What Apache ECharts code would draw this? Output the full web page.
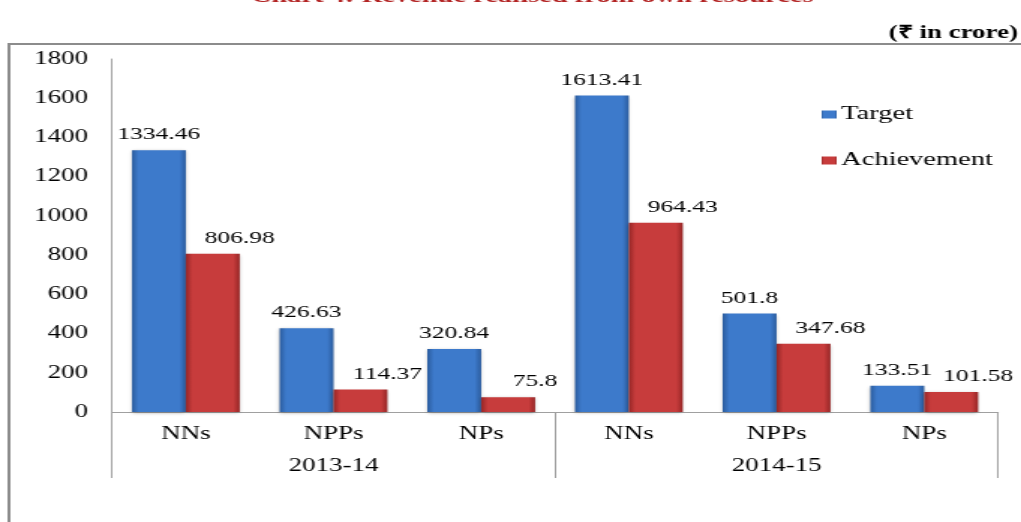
<!DOCTYPE html>
<html>
<head>
<meta charset="utf-8">
<script src="https://cdn.jsdelivr.net/npm/echarts@6/dist/echarts.min.js"></script>
<style>
  html, body { margin: 0; padding: 0; background: #fff; overflow: hidden; }
  /* the source picture is stretched sideways, so draw narrow and stretch */
  #chart { width: 681px; height: 522px; transform: scaleX(1.4993); transform-origin: 0 0; }
</style>
</head>
<body>
<div id="chart"></div>
<script>
const years = ['2013-14', '2014-15']
const categories = ['NNs', 'NPPs', 'NPs', 'NNs', 'NPPs', 'NPs']
const target = [1334.46, 426.63, 320.84, 1613.41, 501.8, 133.51]
const achievement = [806.98, 114.37, 75.8, 964.43, 347.68, 101.58]

const serif = '"Liberation Serif", "Times New Roman", serif'

const barFill = (edge, mid) => new echarts.graphic.LinearGradient(0, 0, 1, 0, [
  { offset: 0, color: edge },
  { offset: 0.12, color: mid },
  { offset: 0.88, color: mid },
  { offset: 1, color: edge }
])

const chart = echarts.init(document.getElementById('chart'))

const option = {
  animation: false,
  grid: { left: 74.7, right: 15.3, top: 59, bottom: 110 },
  graphic: [
    {
      type: 'rect',
      shape: { x: 6, y: 44, width: 720, height: 520 },
      style: { fill: 'none', stroke: '#8c8c8c', lineWidth: 2 }
    },
    {
      type: 'text',
      x: 355, y: 7,
      style: {
        text: 'Chart 4: Revenue realised from own resources',
        fill: '#b22222',
        font: 'bold 19px ' + serif,
        textAlign: 'center',
        textVerticalAlign: 'bottom'
      }
    },
    {
      type: 'text',
      x: 679, y: 33,
      style: {
        text: '(\u20B9 in crore)',
        fill: '#000',
        font: 'bold 18px ' + serif,
        textAlign: 'right',
        textVerticalAlign: 'middle'
      }
    }
  ],
  legend: {
    orient: 'vertical',
    left: 543,
    top: 100,
    itemWidth: 10,
    itemHeight: 8,
    itemGap: 27,
    icon: 'rect',
    data: ['Target', 'Achievement'],
    textStyle: { fontFamily: serif, fontSize: 19, color: '#000', padding: [0, 0, 0, -2] }
  },
  xAxis: [
    {
      type: 'category',
      data: categories,
      axisLine: { lineStyle: { color: '#a0a0a0', width: 1 } },
      axisTick: { show: false },
      axisLabel: { margin: 13, fontFamily: serif, fontSize: 18, color: '#000' }
    },
    {
      type: 'category',
      data: years,
      position: 'bottom',
      axisLine: { show: false },
      axisTick: { show: true, length: 66, lineStyle: { color: '#a0a0a0', width: 1 } },
      axisLabel: { margin: 45, fontFamily: serif, fontSize: 18, color: '#000' }
    }
  ],
  yAxis: {
    type: 'value',
    min: 0,
    max: 1800,
    interval: 200,
    axisLine: { show: true, lineStyle: { color: '#a0a0a0', width: 1 } },
    axisTick: { show: false },
    splitLine: { show: false },
    axisLabel: {
      margin: 16, fontFamily: serif, fontSize: 18, color: '#000',
      formatter: v => String(v)
    }
  },
  series: [
    {
      name: 'Target',
      type: 'bar',
      data: target,
      barGap: '0%',
      barCategoryGap: '27%',
      itemStyle: {
        color: barFill('#2b5c9e', '#3d7acb'),
        shadowColor: 'rgba(0,0,0,0.3)', shadowBlur: 3, shadowOffsetY: 1
      },
      label: {
        show: true, position: 'top', distance: 7,
        fontFamily: serif, fontSize: 17, color: '#000'
      }
    },
    {
      name: 'Achievement',
      type: 'bar',
      data: achievement,
      itemStyle: {
        color: barFill('#962626', '#c73c3c'),
        shadowColor: 'rgba(0,0,0,0.3)', shadowBlur: 3, shadowOffsetY: 1
      },
      label: {
        show: true, position: 'top', distance: 7, offset: [18, 0],
        fontFamily: serif, fontSize: 17, color: '#000'
      }
    }
  ]
}

chart.setOption(option)
</script>
</body>
</html>
